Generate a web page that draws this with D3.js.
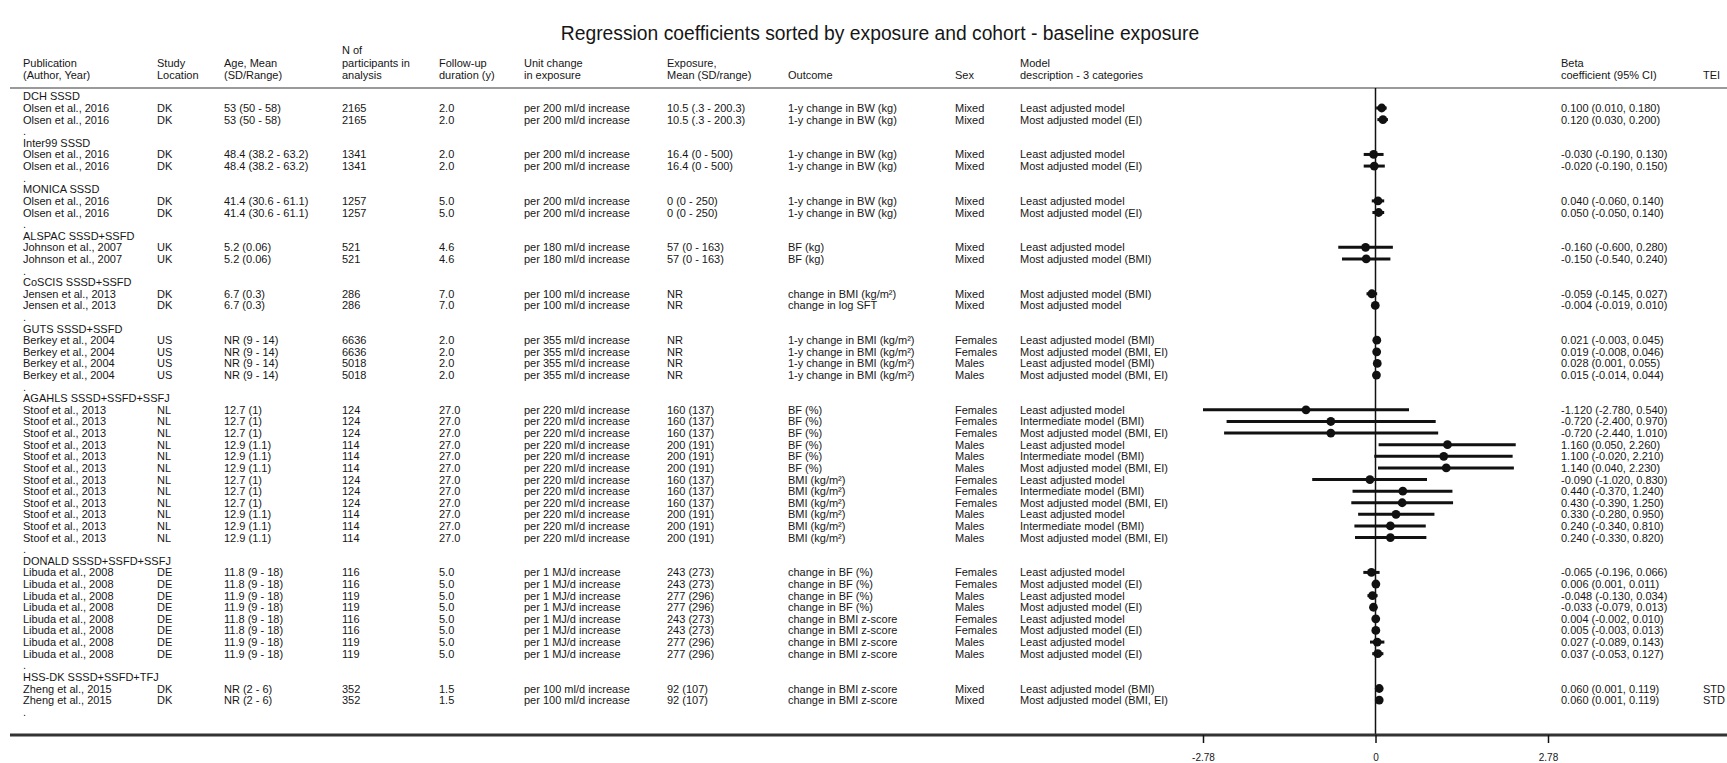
<!DOCTYPE html>
<html><head><meta charset="utf-8">
<script src="https://cdn.jsdelivr.net/npm/d3@7"></script>
<style>
body{margin:0;background:#fff;}
svg{display:block;}
text{font-family:"Liberation Sans",Arial,sans-serif;fill:#161616;}
</style>
</head><body>
<svg id="chart" width="1727" height="763"></svg>
<script>
// ---------------- DATA ----------------
const chartTitle = "Regression coefficients sorted by exposure and cohort - baseline exposure";
const cohorts = ["DCH SSSD","Inter99 SSSD","MONICA SSSD","ALSPAC SSSD+SSFD","CoSCIS SSSD+SSFD","GUTS SSSD+SSFD","AGAHLS SSSD+SSFD+SSFJ","DONALD SSSD+SSFD+SSFJ","HSS-DK SSSD+SSFD+TFJ"];
const cohortSizes = [2,2,2,2,2,4,12,8,2];

const authors = ["Olsen et al., 2016","Olsen et al., 2016","Olsen et al., 2016","Olsen et al., 2016","Olsen et al., 2016","Olsen et al., 2016",
 "Johnson et al., 2007","Johnson et al., 2007","Jensen et al., 2013","Jensen et al., 2013",
 "Berkey et al., 2004","Berkey et al., 2004","Berkey et al., 2004","Berkey et al., 2004",
 "Stoof et al., 2013","Stoof et al., 2013","Stoof et al., 2013","Stoof et al., 2013","Stoof et al., 2013","Stoof et al., 2013",
 "Stoof et al., 2013","Stoof et al., 2013","Stoof et al., 2013","Stoof et al., 2013","Stoof et al., 2013","Stoof et al., 2013",
 "Libuda et al., 2008","Libuda et al., 2008","Libuda et al., 2008","Libuda et al., 2008","Libuda et al., 2008","Libuda et al., 2008","Libuda et al., 2008","Libuda et al., 2008",
 "Zheng et al., 2015","Zheng et al., 2015"];
const locations = ["DK","DK","DK","DK","DK","DK","UK","UK","DK","DK","US","US","US","US",
 "NL","NL","NL","NL","NL","NL","NL","NL","NL","NL","NL","NL",
 "DE","DE","DE","DE","DE","DE","DE","DE","DK","DK"];
const ages = ["53 (50 - 58)","53 (50 - 58)","48.4 (38.2 - 63.2)","48.4 (38.2 - 63.2)","41.4 (30.6 - 61.1)","41.4 (30.6 - 61.1)",
 "5.2 (0.06)","5.2 (0.06)","6.7 (0.3)","6.7 (0.3)","NR (9 - 14)","NR (9 - 14)","NR (9 - 14)","NR (9 - 14)",
 "12.7 (1)","12.7 (1)","12.7 (1)","12.9 (1.1)","12.9 (1.1)","12.9 (1.1)","12.7 (1)","12.7 (1)","12.7 (1)","12.9 (1.1)","12.9 (1.1)","12.9 (1.1)",
 "11.8 (9 - 18)","11.8 (9 - 18)","11.9 (9 - 18)","11.9 (9 - 18)","11.8 (9 - 18)","11.8 (9 - 18)","11.9 (9 - 18)","11.9 (9 - 18)",
 "NR (2 - 6)","NR (2 - 6)"];
const participants = ["2165","2165","1341","1341","1257","1257","521","521","286","286","6636","6636","5018","5018",
 "124","124","124","114","114","114","124","124","124","114","114","114",
 "116","116","119","119","116","116","119","119","352","352"];
const followUps = ["2.0","2.0","2.0","2.0","5.0","5.0","4.6","4.6","7.0","7.0","2.0","2.0","2.0","2.0",
 "27.0","27.0","27.0","27.0","27.0","27.0","27.0","27.0","27.0","27.0","27.0","27.0",
 "5.0","5.0","5.0","5.0","5.0","5.0","5.0","5.0","1.5","1.5"];
const unitChanges = ["per 200 ml/d increase","per 200 ml/d increase","per 200 ml/d increase","per 200 ml/d increase","per 200 ml/d increase","per 200 ml/d increase",
 "per 180 ml/d increase","per 180 ml/d increase","per 100 ml/d increase","per 100 ml/d increase",
 "per 355 ml/d increase","per 355 ml/d increase","per 355 ml/d increase","per 355 ml/d increase",
 "per 220 ml/d increase","per 220 ml/d increase","per 220 ml/d increase","per 220 ml/d increase","per 220 ml/d increase","per 220 ml/d increase",
 "per 220 ml/d increase","per 220 ml/d increase","per 220 ml/d increase","per 220 ml/d increase","per 220 ml/d increase","per 220 ml/d increase",
 "per 1 MJ/d increase","per 1 MJ/d increase","per 1 MJ/d increase","per 1 MJ/d increase","per 1 MJ/d increase","per 1 MJ/d increase","per 1 MJ/d increase","per 1 MJ/d increase",
 "per 100 ml/d increase","per 100 ml/d increase"];
const exposures = ["10.5 (.3 - 200.3)","10.5 (.3 - 200.3)","16.4 (0 - 500)","16.4 (0 - 500)","0 (0 - 250)","0 (0 - 250)",
 "57 (0 - 163)","57 (0 - 163)","NR","NR","NR","NR","NR","NR",
 "160 (137)","160 (137)","160 (137)","200 (191)","200 (191)","200 (191)","160 (137)","160 (137)","160 (137)","200 (191)","200 (191)","200 (191)",
 "243 (273)","243 (273)","277 (296)","277 (296)","243 (273)","243 (273)","277 (296)","277 (296)","92 (107)","92 (107)"];
const outcomes = ["1-y change in BW (kg)","1-y change in BW (kg)","1-y change in BW (kg)","1-y change in BW (kg)","1-y change in BW (kg)","1-y change in BW (kg)",
 "BF (kg)","BF (kg)","change in BMI (kg/m²)","change in log SFT",
 "1-y change in BMI (kg/m²)","1-y change in BMI (kg/m²)","1-y change in BMI (kg/m²)","1-y change in BMI (kg/m²)",
 "BF (%)","BF (%)","BF (%)","BF (%)","BF (%)","BF (%)","BMI (kg/m²)","BMI (kg/m²)","BMI (kg/m²)","BMI (kg/m²)","BMI (kg/m²)","BMI (kg/m²)",
 "change in BF (%)","change in BF (%)","change in BF (%)","change in BF (%)","change in BMI z-score","change in BMI z-score","change in BMI z-score","change in BMI z-score",
 "change in BMI z-score","change in BMI z-score"];
const sexes = ["Mixed","Mixed","Mixed","Mixed","Mixed","Mixed","Mixed","Mixed","Mixed","Mixed",
 "Females","Females","Males","Males",
 "Females","Females","Females","Males","Males","Males","Females","Females","Females","Males","Males","Males",
 "Females","Females","Males","Males","Females","Females","Males","Males","Mixed","Mixed"];
const models = ["Least adjusted model","Most adjusted model (EI)","Least adjusted model","Most adjusted model (EI)","Least adjusted model","Most adjusted model (EI)",
 "Least adjusted model","Most adjusted model (BMI)","Most adjusted model (BMI)","Most adjusted model",
 "Least adjusted model (BMI)","Most adjusted model (BMI, EI)","Least adjusted model (BMI)","Most adjusted model (BMI, EI)",
 "Least adjusted model","Intermediate model (BMI)","Most adjusted model (BMI, EI)","Least adjusted model","Intermediate model (BMI)","Most adjusted model (BMI, EI)",
 "Least adjusted model","Intermediate model (BMI)","Most adjusted model (BMI, EI)","Least adjusted model","Intermediate model (BMI)","Most adjusted model (BMI, EI)",
 "Least adjusted model","Most adjusted model (EI)","Least adjusted model","Most adjusted model (EI)","Least adjusted model","Most adjusted model (EI)","Least adjusted model","Most adjusted model (EI)",
 "Least adjusted model (BMI)","Most adjusted model (BMI, EI)"];
const betas = [0.100,0.120,-0.030,-0.020,0.040,0.050,-0.160,-0.150,-0.059,-0.004,0.021,0.019,0.028,0.015,
 -1.120,-0.720,-0.720,1.160,1.100,1.140,-0.090,0.440,0.430,0.330,0.240,0.240,
 -0.065,0.006,-0.048,-0.033,0.004,0.005,0.027,0.037,0.060,0.060];
const lowerCI = [0.010,0.030,-0.190,-0.190,-0.060,-0.050,-0.600,-0.540,-0.145,-0.019,-0.003,-0.008,0.001,-0.014,
 -2.780,-2.400,-2.440,0.050,-0.020,0.040,-1.020,-0.370,-0.390,-0.280,-0.340,-0.330,
 -0.196,0.001,-0.130,-0.079,-0.002,-0.003,-0.089,-0.053,0.001,0.001];
const upperCI = [0.180,0.200,0.130,0.150,0.140,0.140,0.280,0.240,0.027,0.010,0.045,0.046,0.055,0.044,
 0.540,0.970,1.010,2.260,2.210,2.230,0.830,1.240,1.250,0.950,0.810,0.820,
 0.066,0.011,0.034,0.013,0.010,0.013,0.143,0.127,0.119,0.119];
const teiLabels = ["","","","","","","","","","","","","","","","","","","","","","","","","","","","","","","","","","","STD","STD"];
const axisTicks = [-2.78, 0, 2.78];
const axisTickLabels = ["-2.78","0","2.78"];
const headers = [
 ["Publication","(Author, Year)"],["Study","Location"],["Age, Mean","(SD/Range)"],["N of","participants in","analysis"],
 ["Follow-up","duration (y)"],["Unit change","in exposure"],["Exposure,","Mean (SD/range)"],["Outcome"],["Sex"],
 ["Model","description - 3 categories"],["Beta","coefficient (95% CI)"],["TEI"]
];

// ---------------- LAYOUT ----------------
const W = 1727, H = 763;
const colX = [23,157,224,342,439,524,667,788,955,1020,1561,1703];
const fontSize = 11;
const svg = d3.select("#chart");
const fmt = d3.formatLocale({decimal:".",thousands:",",grouping:[3],currency:["",""],minus:"-"}).format(".3f");

// build line list
const lines = [];
let r = 0;
cohorts.forEach((c, gi) => {
  if (gi > 0) lines.push({type:"blank"});
  lines.push({type:"header", text:c});
  for (let k = 0; k < cohortSizes[gi]; k++) { lines.push({type:"row", i:r}); r++; }
});
lines.push({type:"blank"});

const y = d3.scaleLinear().domain([0, lines.length - 1]).range([96.4, 96.4 + 11.61 * (lines.length - 1)]);
const x = d3.scaleLinear().domain([-2.78, 2.78]).range([1203, 1548]);

// title
svg.append("text").attr("x", 880).attr("y", 40).attr("text-anchor","middle")
  .style("font-size","19.3px").text(chartTitle);

// headers
headers.forEach((h, ci) => {
  const n = h.length;
  h.forEach((t, li) => {
    svg.append("text").attr("x", colX[ci]).attr("y", 79 - (n - 1 - li) * 12.3)
      .style("font-size", fontSize + "px").text(t);
  });
});

// header rule
svg.append("line").attr("x1", 10).attr("x2", W).attr("y1", 88).attr("y2", 88)
  .attr("stroke", "#9a9a9a").attr("stroke-width", 2);

// zero line
svg.append("line").attr("x1", x(0)).attr("x2", x(0)).attr("y1", 88).attr("y2", 735)
  .attr("stroke", "#111").attr("stroke-width", 1.5);

const cols = [authors, locations, ages, participants, followUps, unitChanges, exposures, outcomes, sexes, models];

lines.forEach((ln, li) => {
  const yy = y(li);
  if (ln.type === "header") {
    svg.append("text").attr("x", colX[0]).attr("y", yy + 4).style("font-size", fontSize + "px").text(ln.text);
  } else if (ln.type === "blank") {
    if (li > 0) svg.append("text").attr("x", colX[0]).attr("y", yy + 4).style("font-size", fontSize + "px").text(".");
  } else {
    const i = ln.i;
    cols.forEach((arr, ci) => {
      svg.append("text").attr("x", colX[ci]).attr("y", yy + 4).style("font-size", fontSize + "px").text(arr[i]);
    });
    svg.append("text").attr("x", colX[10]).attr("y", yy + 4).style("font-size", fontSize + "px")
      .text(`${fmt(betas[i])} (${fmt(lowerCI[i])}, ${fmt(upperCI[i])})`);
    if (teiLabels[i]) svg.append("text").attr("x", colX[11]).attr("y", yy + 4).style("font-size", fontSize + "px").text(teiLabels[i]);
    // CI line
    svg.append("line").attr("x1", x(lowerCI[i])).attr("x2", x(upperCI[i])).attr("y1", yy).attr("y2", yy)
      .attr("stroke", "#111").attr("stroke-width", 3);
    svg.append("circle").attr("cx", x(betas[i])).attr("cy", yy).attr("r", 4.4).attr("fill", "#111");
  }
});

// x axis
svg.append("line").attr("x1", 10).attr("x2", W).attr("y1", 735).attr("y2", 735)
  .attr("stroke", "#333").attr("stroke-width", 3);
const axis = d3.axisBottom(x).tickValues(axisTicks).tickSize(8).tickFormat((d, i) => axisTickLabels[i]);
const ag = svg.append("g").attr("transform", "translate(0,735)").call(axis);
ag.select(".domain").remove();
ag.selectAll(".tick line").attr("stroke", "#111").attr("stroke-width", 1.5);
ag.selectAll(".tick text").attr("fill", "#161616").style("font-family", '"Liberation Sans",Arial,sans-serif')
  .style("font-size", "10px").attr("y", 26).attr("dy", null);
</script>
</body></html>
